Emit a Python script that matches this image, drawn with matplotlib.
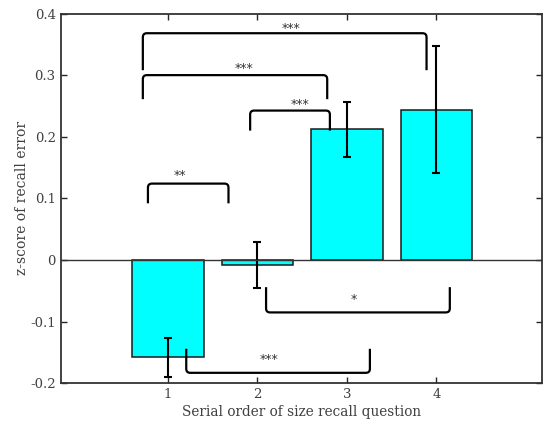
import matplotlib
matplotlib.use("Agg")
import matplotlib.pyplot as plt
from matplotlib.path import Path
from matplotlib.patches import PathPatch

# Data
positions = [1, 2, 3, 4]
means = [-0.158, -0.008, 0.212, 0.244]
errors = [0.032, 0.038, 0.045, 0.103]
xtick_labels = ["1", "2", "3", "4"]
ytick_values = [-0.2, -0.1, 0, 0.1, 0.2, 0.3, 0.4]
ytick_labels = ["-0.2", "-0.1", "0", "0.1", "0.2", "0.3", "0.4"]

# significance brackets: x1, x2, bar level, leg end, label, label x, label y
br_x1 = [0.777, 1.919, 0.72, 0.72, 2.097, 1.205]
br_x2 = [1.677, 2.810, 2.78, 3.89, 4.150, 3.257]
br_bar = [0.124, 0.2425, 0.300, 0.368, -0.085, -0.183]
br_leg = [0.092, 0.210, 0.261, 0.308, -0.044, -0.144]
br_label = ["**", "***", "***", "***", "*", "***"]
br_lx = [1.13, 2.48, 1.85, 2.38, 3.08, 2.13]
br_ly = [0.137, 0.252, 0.311, 0.375, -0.064, -0.161]

FONT = "DejaVu Serif"
GRAY = "#404040"

fig = plt.figure(figsize=(5.43, 4.29), dpi=100)
W, H = 543, 429
left, right, top, bottom = 60.5, 542, 13.5, 383.3
ax = fig.add_axes([left / W, 1 - bottom / H, (right - left) / W, (bottom - top) / H])

ax.bar(positions, means, width=0.8, color="#00FFFF", edgecolor="#1a1a1a",
       linewidth=1.1, zorder=2)
ax.errorbar(positions, means, yerr=errors, fmt="none", ecolor="black",
            elinewidth=1.5, capsize=3, capthick=1.5, zorder=3)
ax.axhline(0, color="#333333", linewidth=1.0, zorder=4)

ax.set_xlim(-0.2, 5.18)
ax.set_ylim(-0.2, 0.4)


def bracket(x1, x2, ybar, yleg):
    sx = (ax.get_xlim()[1] - ax.get_xlim()[0]) / (right - left)
    sy = (ax.get_ylim()[1] - ax.get_ylim()[0]) / (bottom - top)
    rx, ry = 4 * sx, 4 * sy
    s = 1 if ybar > yleg else -1
    verts = [(x1, yleg), (x1, ybar - s * ry), (x1, ybar), (x1 + rx, ybar),
             (x2 - rx, ybar), (x2, ybar), (x2, ybar - s * ry), (x2, yleg)]
    codes = [Path.MOVETO, Path.LINETO, Path.CURVE3, Path.CURVE3,
             Path.LINETO, Path.CURVE3, Path.CURVE3, Path.LINETO]
    ax.add_patch(PathPatch(Path(verts, codes), fill=False, edgecolor="black",
                           linewidth=1.6, zorder=5))


for x1, x2, yb, yl, lab, lx, ly in zip(br_x1, br_x2, br_bar, br_leg, br_label, br_lx, br_ly):
    bracket(x1, x2, yb, yl)
    ax.text(lx, ly, lab, ha="center", va="center", fontsize=9, color="#333333",
            family="DejaVu Sans", zorder=6)

ax.set_xticks(positions)
ax.set_xticklabels(xtick_labels)
ax.set_yticks(ytick_values)
ax.set_yticklabels(ytick_labels)
ax.tick_params(direction="in", top=True, right=True, length=4, width=1.0,
               colors="#262626", labelcolor=GRAY, labelsize=9.5)
for lab in ax.get_xticklabels() + ax.get_yticklabels():
    lab.set_family(FONT)
for sp in ax.spines.values():
    sp.set_color("#333333")
    sp.set_linewidth(1.3)

ax.set_xlabel("Serial order of size recall question", fontsize=9.8, family=FONT,
              color=GRAY, labelpad=3)
ax.set_ylabel("z-score of recall error", fontsize=10, family=FONT, color=GRAY)
ax.yaxis.set_label_coords((29 - left) / (right - left), 0.5)

fig.savefig("out.png", dpi=100)
